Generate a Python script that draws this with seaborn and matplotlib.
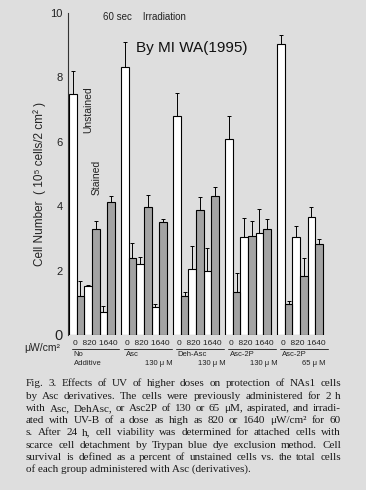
import numpy as np
import pandas as pd
import seaborn as sns
import matplotlib.pyplot as plt
import matplotlib.transforms as mtransforms

# values (10^5 cells / 2 cm^2)
group_names = ["No", "Asc", "Deh-Asc", "Asc-2P", "Asc-2P"]
group_conc = ["Additive", "130 \u03bc M", "130 \u03bc M", "130 \u03bc M", "65 \u03bc M"]
doses = ["0", "820", "1640"]

unstained = [[7.48, 1.52, 0.70], [8.32, 2.20, 0.87], [6.80, 2.05, 2.00],
             [6.08, 3.05, 3.17], [9.05, 3.05, 3.66]]
unstained_sd = [[0.72, 0.03, 0.20], [0.78, 0.22, 0.08], [0.70, 0.70, 0.70],
                [0.72, 0.57, 0.73], [0.28, 0.33, 0.31]]
stained = [[1.20, 3.30, 4.13], [2.38, 3.98, 3.50], [1.22, 3.87, 4.33],
           [1.35, 3.08, 3.30], [0.97, 1.83, 2.82]]
stained_sd = [[0.48, 0.25, 0.19], [0.48, 0.36, 0.10], [0.10, 0.41, 0.27],
              [0.58, 0.47, 0.30], [0.09, 0.57, 0.15]]

caption = [
    "Fig. 3. Effects of UV of higher doses on protection of NAs1 cells",
    "by Asc derivatives. The cells were previously administered for 2 h",
    "with Asc, DehAsc, or Asc2P of 130 or 65 \u03bcM, aspirated, and irradi-",
    "ated with UV-B of a dose as high as 820 or 1640 \u03bcW/cm\u00b2 for 60",
    "s. After 24 h, cell viability was determined for attached cells with",
    "scarce cell detachment by Trypan blue dye exclusion method. Cell",
    "survival is defined as a percent of unstained cells vs. the total cells",
    "of each group administered with Asc (derivatives).",
]

GROUP_STEP = 6.8
rows = []
for g in range(len(group_names)):
    for d in range(len(doses)):
        rows.append(dict(pos=g * GROUP_STEP + d * 2, value=unstained[g][d],
                         sd=unstained_sd[g][d], stain="Unstained"))
        rows.append(dict(pos=g * GROUP_STEP + d * 2 + 1, value=stained[g][d],
                         sd=stained_sd[g][d], stain="Stained"))
df = pd.DataFrame(rows)

sns.set_style("white")
plt.rcParams["font.family"] = ["Liberation Sans", "DejaVu Sans"]
bg = "#dedede"
W, H = 366, 490
fig = plt.figure(figsize=(W / 100, H / 100), dpi=100, facecolor=bg)
ax = fig.add_axes([68 / W, 1 - 335 / H, (325 - 68) / W, (335 - 13) / H])
ax.set_facecolor(bg)

sns.barplot(data=df, x="pos", y="value", hue="stain", native_scale=True,
            dodge=False, width=1, palette={"Unstained": "white", "Stained": "#a3a3a3"},
            edgecolor="black", linewidth=0.8, legend=False, errorbar=None, ax=ax)
ax.errorbar(df["pos"], df["value"], yerr=[np.zeros(len(df)), df["sd"]], fmt="none",
            ecolor="black", elinewidth=0.7, capsize=1.5, capthick=0.7)

ax.set_ylim(0, 10)
ax.set_xlim(-0.63, -0.63 + 257 / 7.65)
for s in ["top", "right", "bottom"]:
    ax.spines[s].set_visible(False)
ax.spines["left"].set_color("#333333")
ax.spines["left"].set_linewidth(0.8)
ax.set_xticks([])
ax.set_yticks([0, 2, 4, 6, 8, 10])
ax.set_yticklabels(["0", "2", "4", "6", "8", "10"])
ax.tick_params(axis="y", direction="out", length=2, width=0.6, labelsize=8, pad=2,
               colors="#222222")
ax.get_yticklabels()[0].set_fontsize(10.5)
ax.set_xlabel("")
ax.set_ylabel("")

trans = mtransforms.blended_transform_factory(ax.transData, ax.transAxes)
for g in range(len(group_names)):
    x0 = g * GROUP_STEP - 0.5
    ax.text(x0 + 0.5, -0.025, "0  820 1640", transform=trans, fontsize=6,
            ha="left", va="center", color="#222222")
    ax.plot([x0 + 0.4, x0 + 6.6], [-0.045, -0.045], transform=trans, color="#333333",
            lw=0.7, clip_on=False)
    ax.text(x0 + 0.6, -0.062, group_names[g], transform=trans, fontsize=5.5,
            ha="left", va="center", color="#222222")
    if g == 0:
        ax.text(x0 + 0.6, -0.087, group_conc[g], transform=trans, fontsize=5.5,
                ha="left", va="center", color="#222222")
    else:
        ax.text(x0 + 3.2, -0.087, group_conc[g], transform=trans, fontsize=5.5,
                ha="left", va="center", color="#222222")

fig.text(24 / W, 1 - 348 / H, "\u03bcW/cm\u00b2", fontsize=7.5, ha="left", va="center",
         color="#222222")
fig.text(40 / W, 1 - 184 / H, "Cell Number  ( 10\u2075 cells/2 cm\u00b2 )", rotation=90,
         fontsize=8.5, ha="center", va="center", color="#222222")
fig.text(103 / W, 1 - 17 / H, "60 sec    Irradiation", fontsize=7, ha="left",
         va="center", color="#222222")
fig.text(136 / W, 1 - 48 / H, "By MI WA(1995)", fontsize=11, ha="left", va="center",
         color="#111111")
fig.text(88 / W, 1 - 110 / H, "Unstained", rotation=90, fontsize=7.5, ha="center",
         va="center", color="#222222")
fig.text(97 / W, 1 - 177 / H, "Stained", rotation=90, fontsize=7.5, ha="center",
         va="center", color="#222222")

# justified caption, serif like the printed page
cap_left, cap_right = 26, 341
renderer = fig.canvas.get_renderer()
serif = ["Liberation Serif", "DejaVu Serif"]
for i, line in enumerate(caption):
    y = 1 - (384 + i * 12.2) / H
    if i == len(caption) - 1:
        fig.text(cap_left / W, y, line, fontsize=8.0, ha="left", va="center",
                 family=serif, color="#1a1a1a")
        continue
    words = line.split(" ")
    objs = [fig.text(0, y, w, fontsize=8.0, ha="left", va="center", family=serif,
                     color="#1a1a1a") for w in words]
    widths = [t.get_window_extent(renderer).width for t in objs]
    gap = (cap_right - cap_left - sum(widths)) / (len(words) - 1)
    x = cap_left
    for t, w in zip(objs, widths):
        t.set_x(x / W)
        x += w + gap

fig.savefig("out.png", dpi=100, facecolor=bg)
